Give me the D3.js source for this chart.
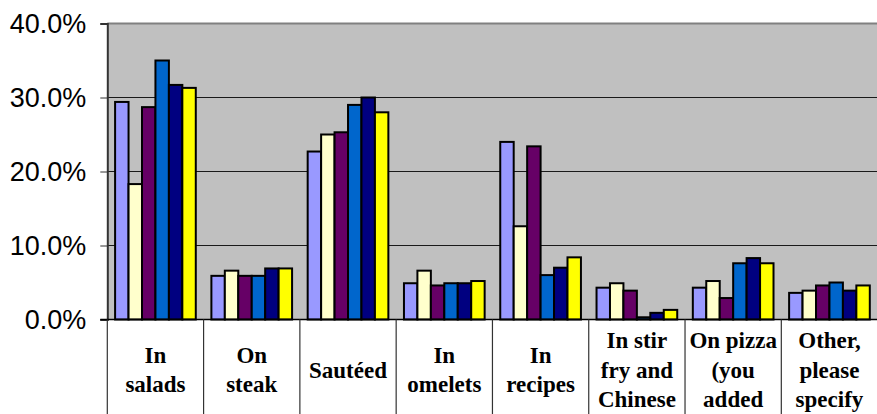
<!DOCTYPE html>
<html>
<head>
<meta charset="utf-8">
<script src="https://cdn.jsdelivr.net/npm/d3@7/dist/d3.min.js"></script>
<style>
  html, body { margin: 0; padding: 0; background: #ffffff; }
  svg { display: block; }
  .cat-label { font-family: "Liberation Serif", "DejaVu Serif", "Times New Roman", Times, serif; font-weight: bold; }
  .y-label { font-family: "Liberation Sans", Arial, Helvetica, sans-serif; }
</style>
</head>
<body>
<svg id="chart" width="877" height="414"></svg>
<script>
// Category labels (each entry is the list of wrapped lines shown under the axis)
const categories = ["In salads", "On steak", "Sautéed", "In omelets", "In recipes",
                    "In stir fry and Chinese", "On pizza (you added", "Other, please specify"];
const categoryLines = [
  ["In", "salads"],
  ["On", "steak"],
  ["Sautéed"],
  ["In", "omelets"],
  ["In", "recipes"],
  ["In stir", "fry and", "Chinese"],
  ["On pizza", "(you", "added"],
  ["Other,", "please", "specify"]
];

// Six response groups, one value per category (shares, 0–1)
const seriesKeys = ["g1", "g2", "g3", "g4", "g5", "g6"];
const group1 = [0.294, 0.059, 0.227, 0.049, 0.240, 0.043, 0.043, 0.036];
const group2 = [0.183, 0.066, 0.250, 0.066, 0.126, 0.049, 0.052, 0.039];
const group3 = [0.287, 0.059, 0.253, 0.046, 0.234, 0.039, 0.029, 0.046];
const group4 = [0.350, 0.059, 0.290, 0.049, 0.060, 0.003, 0.076, 0.050];
const group5 = [0.317, 0.069, 0.300, 0.049, 0.070, 0.009, 0.083, 0.039];
const group6 = [0.313, 0.069, 0.280, 0.052, 0.084, 0.013, 0.076, 0.046];
const seriesValues = [group1, group2, group3, group4, group5, group6];
const seriesColors = ["#9999FF", "#FFFFCC", "#660066", "#0066CC", "#000080", "#FFFF00"];

const yTicks = [0, 0.1, 0.2, 0.3, 0.4];

const svg = d3.select("#chart");
const plot = { left: 107.3, right: 877.6, top: 23.5, bottom: 319.5 };
const chartBottom = 414;

const x0 = d3.scaleBand().domain(categories).range([plot.left, plot.right]).padding(0);
const x1 = d3.scaleBand().domain(seriesKeys).range([0, x0.bandwidth()])
  .paddingInner(0).paddingOuter(0.58);
const y = d3.scaleLinear().domain([0, 0.4]).range([plot.bottom, plot.top]);

// Plot background
svg.append("rect")
  .attr("x", plot.left).attr("y", plot.top)
  .attr("width", plot.right - plot.left).attr("height", plot.bottom - plot.top)
  .attr("fill", "#C0C0C0");

// Horizontal gridlines
svg.append("g")
  .selectAll("line")
  .data(yTicks.filter(t => t > 0 && t < 0.4))
  .join("line")
  .attr("x1", plot.left).attr("x2", plot.right)
  .attr("y1", d => y(d)).attr("y2", d => y(d))
  .attr("stroke", "#1a1a1a").attr("stroke-width", 1);

// Top border of the plot area
svg.append("line")
  .attr("x1", plot.left).attr("x2", plot.right)
  .attr("y1", y(0.4)).attr("y2", y(0.4))
  .attr("stroke", "#808080").attr("stroke-width", 2);

// Bars
const rows = categories.map((c, i) => ({
  cat: c,
  vals: seriesKeys.map((k, j) => ({ key: k, value: seriesValues[j][i], color: seriesColors[j] }))
}));

svg.append("g")
  .selectAll("g")
  .data(rows)
  .join("g")
  .attr("transform", d => `translate(${x0(d.cat)},0)`)
  .selectAll("rect")
  .data(d => d.vals)
  .join("rect")
  .attr("x", d => x1(d.key))
  .attr("y", d => y(d.value))
  .attr("width", x1.bandwidth())
  .attr("height", d => y(0) - y(d.value))
  .attr("fill", d => d.color)
  .attr("stroke", "#000")
  .attr("stroke-width", 2)
  .attr("stroke-linejoin", "miter");

// Y axis
const yAxis = d3.axisLeft(y)
  .tickValues(yTicks)
  .tickFormat(d3.format(".1%"))
  .tickSize(7)
  .tickPadding(14);

const yg = svg.append("g")
  .attr("transform", `translate(${plot.left},0)`)
  .call(yAxis)
  .attr("font-family", null)
  .attr("font-size", null);
yg.select(".domain").attr("stroke", "#333").attr("stroke-width", 2);
yg.selectAll(".tick line").attr("stroke", "#333").attr("stroke-width", 1);
yg.selectAll(".tick text")
  .attr("class", "y-label")
  .style("font-size", "27px")
  .attr("fill", "#000")
  .attr("dy", "0.34em");

// X axis baseline
svg.append("line")
  .attr("x1", plot.left - 7).attr("x2", plot.right)
  .attr("y1", y(0)).attr("y2", y(0))
  .attr("stroke", "#000").attr("stroke-width", 1.5);

// Category dividers running down through the label area
const bounds = categories.map(c => x0(c)).concat([plot.right]);
svg.append("g")
  .selectAll("line")
  .data(bounds)
  .join("line")
  .attr("x1", d => d).attr("x2", d => d)
  .attr("y1", y(0)).attr("y2", chartBottom)
  .attr("stroke", "#333").attr("stroke-width", 1.2);

// Category labels
const lineGap = 29.5;
const labelCenter = 377.5;
const lg = svg.append("g")
  .attr("fill", "#000")
  .attr("text-anchor", "middle");

lg.selectAll("text")
  .data(categories)
  .join("text")
  .attr("class", "cat-label")
  .style("font-size", "23px")
  .attr("x", d => x0(d) + x0.bandwidth() / 2)
  .each(function(d, i) {
    const lines = categoryLines[i];
    const n = lines.length;
    d3.select(this).selectAll("tspan")
      .data(lines)
      .join("tspan")
      .attr("x", x0(d) + x0.bandwidth() / 2)
      .attr("y", (t, k) => labelCenter + (k - (n - 1) / 2) * lineGap)
      .text(t => t);
  });
</script>
</body>
</html>
